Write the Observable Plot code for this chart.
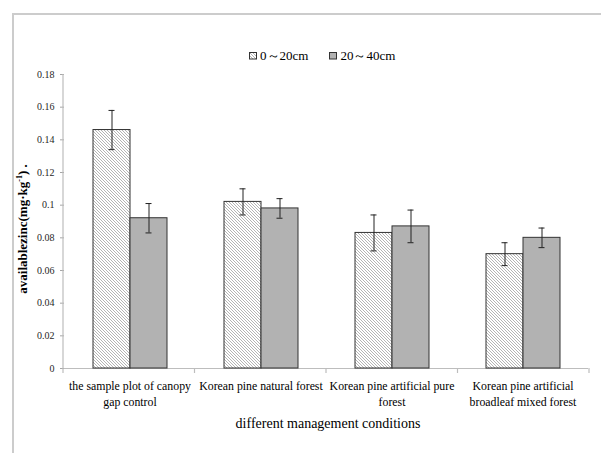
<!DOCTYPE html>
<html><head><meta charset="utf-8">
<script src="https://cdn.jsdelivr.net/npm/d3@7"></script>
<script src="https://cdn.jsdelivr.net/npm/@observablehq/plot@0.6"></script>
<style>
body{margin:0;background:#fff;}
#wrap{position:relative;width:601px;height:453px;overflow:hidden;font-family:'Liberation Serif',serif;color:#000;}
#border{position:absolute;left:12px;top:13px;width:600px;height:460px;border-left:2px solid #cccccc;border-top:2px solid #cccccc;}
#chart{position:absolute;left:0;top:0;}
#chart svg, #chart svg text{font-family:'Liberation Serif',serif !important;}
#legend{position:absolute;top:48px;left:249px;font-size:13px;display:flex;align-items:center;white-space:nowrap;line-height:16px;}
#legend .item{display:flex;align-items:center;}
#legend svg{margin-right:2px;}
#ylabel{position:absolute;left:23px;top:229px;transform:translate(-50%,-50%) rotate(-90deg);font-size:13px;font-weight:bold;white-space:nowrap;}
#xlabel{position:absolute;left:328px;top:424px;transform:translate(-50%,-50%);font-size:14px;white-space:nowrap;}
#chart [aria-label="y-axis tick"] path, #chart [aria-label="y-axis"] .tick line{stroke:#a6a6a6;}
</style></head>
<body>
<svg width="0" height="0" style="position:absolute">
  <defs>
    <pattern id="hatch" patternUnits="userSpaceOnUse" width="3" height="3">
      <rect width="3" height="3" fill="#ffffff"/>
      <path d="M-1,-1 L4,4 M-1,2 L1,4 M2,-1 L4,1" stroke="#b4b4b4" stroke-width="1"/>
    </pattern>
  </defs>
</svg>
<div id="wrap">
  <div id="border"></div>
  <div id="chart"></div>
  <div id="legend"></div>
  <div id="ylabel">availablezinc(mg·kg<sup style="font-size:8px">-1</sup>) .</div>
  <div id="xlabel">different management conditions</div>
</div>
<script>
const categories = [
  "the sample plot of canopy\ngap control",
  "Korean pine natural forest",
  "Korean pine artificial pure\nforest",
  "Korean pine artificial\nbroadleaf mixed forest"
];
const series = ["0～20cm", "20～40cm"];
const depth0to20 = [0.146, 0.102, 0.083, 0.070];
const depth20to40 = [0.092, 0.098, 0.087, 0.080];
const err0to20 = [0.012, 0.008, 0.011, 0.007];
const err20to40 = [0.009, 0.006, 0.010, 0.006];
const yTicks = [0, 0.02, 0.04, 0.06, 0.08, 0.1, 0.12, 0.14, 0.16, 0.18];

const data = categories.flatMap((c, i) => [
  {cat: c, series: series[0], value: depth0to20[i], err: err0to20[i]},
  {cat: c, series: series[1], value: depth20to40[i], err: err20to40[i]}
]);

const plot = Plot.plot({
  width: 601,
  height: 453,
  marginLeft: 63,
  marginRight: 12,
  marginTop: 74,
  marginBottom: 85,
  style: {fontFamily: "Liberation Serif, serif", fontSize: "10px", background: "transparent", color: "#262626"},
  fx: {domain: categories, padding: 0, axis: null},
  x: {domain: series, paddingInner: 0, paddingOuter: 0.754, axis: null},
  y: {domain: [0, 0.18], ticks: yTicks, tickFormat: d => String(+d.toFixed(2)), tickSize: 4, tickPadding: 6, label: null},
  marks: [
    Plot.ruleY([0], {stroke: "#bdbdbd", strokeWidth: 1.2}),
    Plot.barY(data.filter(d => d.series === series[0]), {fx: "cat", x: "series", y: "value", fill: "url(#hatch)", stroke: "#333", strokeWidth: 1}),
    Plot.barY(data.filter(d => d.series === series[1]), {fx: "cat", x: "series", y: "value", fill: "#b2b2b2", stroke: "#333", strokeWidth: 1}),
    Plot.ruleX(data, {fx: "cat", x: "series", y1: d => d.value - d.err, y2: d => d.value + d.err, stroke: "#222", strokeWidth: 1}),
    Plot.tickY(data, {fx: "cat", x: "series", y: d => d.value - d.err, stroke: "#222", insetLeft: 15.5, insetRight: 15.5}),
    Plot.tickY(data, {fx: "cat", x: "series", y: d => d.value + d.err, stroke: "#222", insetLeft: 15.5, insetRight: 15.5}),
    Plot.text(categories, {fx: d => d, text: d => d, frameAnchor: "bottom", lineAnchor: "top", dy: 10, lineHeight: 1.36, fontSize: 11.8, fill: "#000"})
  ]
});
document.getElementById("chart").appendChild(plot);

// axis line and category-boundary tick marks from Plot's own scales
const fxs = plot.scale("fx");
const ys = plot.scale("y");
const y0 = ys.range[0], y1 = ys.range[1];
const r0 = fxs.range[0], r1 = fxs.range[1];
const step = (r1 - r0) / categories.length;
const g = d3.select(plot).append("g").attr("stroke", "#bdbdbd").attr("stroke-width", 1.2);
g.append("line").attr("x1", r0).attr("x2", r0).attr("y1", y0).attr("y2", y1);
for (let i = 0; i <= categories.length; i++) {
  const xx = r0 + i * step;
  g.append("line").attr("x1", xx).attr("x2", xx).attr("y1", y0).attr("y2", y0 + 5);
}

// legend
const legend = document.getElementById("legend");
const fills = ["url(#hatch)", "#b2b2b2"];
series.forEach((s, i) => {
  const item = document.createElement("span");
  item.className = "item";
  item.style.marginRight = i === 0 ? "21px" : "0";
  item.innerHTML = `<svg width="9" height="8"><rect x="0.5" y="0.5" width="7" height="6.5" fill="${fills[i]}" stroke="#333"/></svg><span>${s}</span>`;
  legend.appendChild(item);
});
</script>
</body></html>
